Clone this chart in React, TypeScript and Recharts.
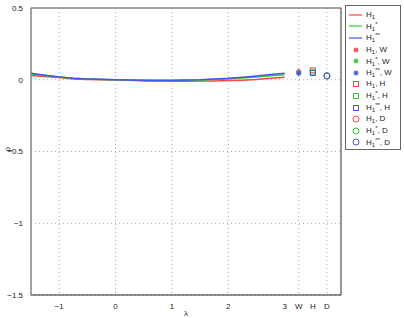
import React from 'react';
import {
  ComposedChart,
  Line,
  Scatter,
  XAxis,
  YAxis,
  CartesianGrid,
  ReferenceLine,
  Label,
} from 'recharts';

const lambdas = [-1.5, -1.25, -1, -0.75, -0.5, -0.25, 0, 0.25, 0.5, 0.75, 1, 1.25, 1.5, 1.75, 2, 2.25, 2.5, 2.75, 3];
const rhoH1 = [0.03, 0.022, 0.015, 0.005, 0.002, 0, -0.002, -0.004, -0.008, -0.01, -0.01, -0.01, -0.009, -0.008, -0.006, -0.003, 0.002, 0.01, 0.018];
const rhoH1s = [0.04, 0.03, 0.02, 0.01, 0.005, 0.002, 0, -0.002, -0.004, -0.005, -0.005, -0.004, -0.002, 0.002, 0.006, 0.012, 0.02, 0.028, 0.034];
const rhoH1ss = [0.045, 0.032, 0.02, 0.01, 0.006, 0.003, 0, -0.002, -0.003, -0.004, -0.004, -0.002, 0, 0.005, 0.01, 0.018, 0.026, 0.036, 0.045];

// extra categories placed after lambda = 3
const extraPos = { W: 3.25, H: 3.5, D: 3.75 };
const pointW = [0.058, 0.05, 0.045];
const pointH = [0.066, 0.056, 0.047];
const pointD = [0.028, 0.028, 0.026];

const xTicks = [-1, 0, 1, 2, 3, 3.25, 3.5, 3.75];
const xTickLabels = ['\u22121', '0', '1', '2', '3', 'W', 'H', 'D'];
const yTicks = [-1.5, -1, -0.5, 0, 0.5];
const yTickLabels = ['\u22121.5', '\u22121', '\u22120.5', '0', '0.5'];

const colors = ['#ff4444', '#33cc33', '#4455ee'];
const supers = ['', '*', '**'];

const toRows = (vals: number[]) => lambdas.map((x, i) => ({ x, y: vals[i] }));

const Star = (props: any) => {
  const { cx, cy, fill } = props;
  const r = 2.6;
  return (
    <g stroke={fill} strokeWidth={1.2}>
      <line x1={cx - r} y1={cy} x2={cx + r} y2={cy} />
      <line x1={cx} y1={cy - r} x2={cx} y2={cy + r} />
      <line x1={cx - r * 0.7} y1={cy - r * 0.7} x2={cx + r * 0.7} y2={cy + r * 0.7} />
      <line x1={cx - r * 0.7} y1={cy + r * 0.7} x2={cx + r * 0.7} y2={cy - r * 0.7} />
    </g>
  );
};

const Square = (props: any) => {
  const { cx, cy, fill } = props;
  return <rect x={cx - 2.5} y={cy - 2.5} width={5} height={5} fill="none" stroke={fill} strokeWidth={1} />;
};

const Circle = (props: any) => {
  const { cx, cy, fill } = props;
  return <circle cx={cx} cy={cy} r={3} fill="none" stroke={fill} strokeWidth={1} />;
};

const font = { fontFamily: 'Liberation Sans, Arial, sans-serif', fontSize: 8, fill: '#222' };

const Name = ({ i, suffix }: { i: number; suffix?: string }) => (
  <span>
    H<sub style={{ fontSize: 6, verticalAlign: -2 }}>1</sub>
    {supers[i] && <sup style={{ fontSize: 6, verticalAlign: 3 }}>{supers[i]}</sup>}
    {suffix ? ', ' + suffix : ''}
  </span>
);

const LegendIcon = ({ kind, color }: { kind: string; color: string }) => (
  <svg width={14} height={10} style={{ marginRight: 3 }}>
    {kind === 'line' && <line x1={0} y1={5} x2={13} y2={5} stroke={color} strokeWidth={1.2} />}
    {kind === 'star' && <Star cx={7} cy={5} fill={color} />}
    {kind === 'square' && <Square cx={7} cy={5} fill={color} />}
    {kind === 'circle' && <Circle cx={7} cy={5} fill={color} />}
  </svg>
);

export default function App() {
  const legendItems: { kind: string; i: number; suffix?: string }[] = [];
  [0, 1, 2].forEach((i) => legendItems.push({ kind: 'line', i }));
  (['star', 'square', 'circle'] as const).forEach((kind, k) =>
    [0, 1, 2].forEach((i) => legendItems.push({ kind, i, suffix: ['W', 'H', 'D'][k] }))
  );

  return (
    <div style={{ position: 'absolute', left: 0, top: 0, width: 404, height: 318, background: '#fff' }}>
      <ComposedChart width={404} height={318} margin={{ top: 8, right: 63, bottom: 0, left: 0 }}>
        <CartesianGrid stroke="#aaa" strokeDasharray="1 3" />
        <XAxis
          type="number"
          dataKey="x"
          domain={[-1.5, 4]}
          ticks={xTicks}
          tickFormatter={(v: number) => xTickLabels[xTicks.indexOf(v)]}
          tick={font}
          tickLine={false}
          stroke="#222"
          height={23}
          allowDataOverflow
        >
          <Label value={'\u03bb'} position="insideBottom" offset={2} style={{ ...font, fontSize: 8 }} />
        </XAxis>
        <YAxis
          type="number"
          dataKey="y"
          domain={[-1.5, 0.5]}
          ticks={yTicks}
          tickFormatter={(v: number) => yTickLabels[yTicks.indexOf(v)]}
          tick={font}
          tickLine={false}
          stroke="#888"
          strokeWidth={1.5}
          width={31}
        >
          <Label value={'\u03c1'} angle={-90} position="insideLeft" offset={7} style={{ ...font, fontSize: 8 }} />
        </YAxis>
        <ReferenceLine y={0.5} stroke="#555" />
        <ReferenceLine x={4} stroke="#777" strokeWidth={1.5} />
        {[rhoH1, rhoH1s, rhoH1ss].map((vals, i) => (
          <Line
            key={'l' + i}
            data={toRows(vals)}
            dataKey="y"
            stroke={colors[i]}
            strokeWidth={1.5}
            dot={false}
            isAnimationActive={false}
          />
        ))}
        {[0, 1, 2].map((i) => (
          <Scatter key={'w' + i} data={[{ x: extraPos.W, y: pointW[i] }]} fill={colors[i]} shape={Star} isAnimationActive={false} />
        ))}
        {[0, 1, 2].map((i) => (
          <Scatter key={'h' + i} data={[{ x: extraPos.H, y: pointH[i] }]} fill={colors[i]} shape={Square} isAnimationActive={false} />
        ))}
        {[0, 1, 2].map((i) => (
          <Scatter key={'d' + i} data={[{ x: extraPos.D, y: pointD[i] }]} fill={colors[i]} shape={Circle} isAnimationActive={false} />
        ))}
      </ComposedChart>
      <div
        style={{
          position: 'absolute',
          left: 345,
          top: 5,
          width: 56,
          height: 145,
          border: '1px solid #666',
          boxSizing: 'border-box',
          background: '#fff',
          fontFamily: 'Liberation Sans, Arial, sans-serif',
          fontSize: 8,
          color: '#222',
          paddingTop: 3,
        }}
      >
        {legendItems.map((it, idx) => (
          <div key={idx} style={{ display: 'flex', alignItems: 'center', height: 11.6, paddingLeft: 3, whiteSpace: 'nowrap' }}>
            <LegendIcon kind={it.kind} color={colors[it.i]} />
            <Name i={it.i} suffix={it.suffix} />
          </div>
        ))}
      </div>
    </div>
  );
}
